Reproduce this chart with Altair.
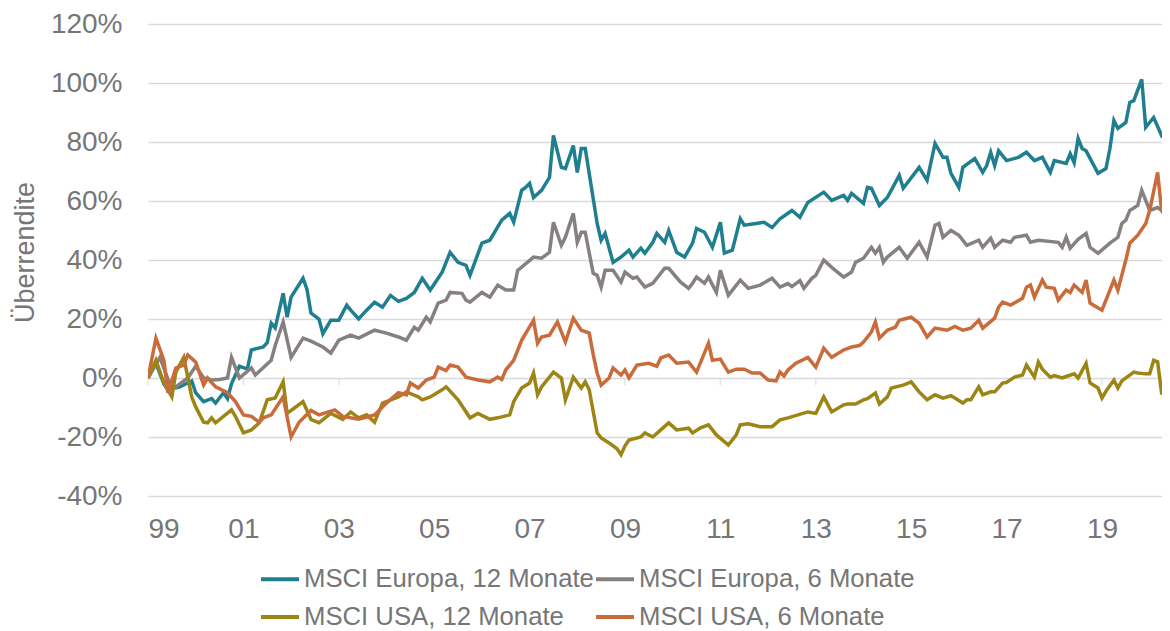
import altair as alt
import pandas as pd

# Series names (legend order) and colours
SERIES = ["MSCI Europa, 12 Monate", "MSCI USA, 12 Monate", "MSCI Europa, 6 Monate", "MSCI USA, 6 Monate"]
COLORS = ["#1f7f8f", "#9c8515", "#878080", "#c96b3b"]

# (months since Jan 1999, excess return in %)
EU12 = [(0,0),(2,5),(4,-2),(5,-4),(8,-3),(11,-1),(12,-5),(14,-8),(16,-7),(17,-8.5),(19,-5),(20,-7),(21,-2),(23,4),(25,3),(26,9.5),(29,10.5),(30,12),(31,18.6),(32,17),(34,28.7),(35,20.6),(36,27.4),(39,33.8),(40,30),(41,22),(43,20),(44,15),(46,19.6),(48,19.6),(50,24.7),(51,23),(53,20),(55,23),(57,25.7),(59,24),(61,28),(63,26),(65,27),(67,29),(69,33.8),(71,29.8),(74,35.9),(76,42.6),(78,39.2),(80,38.2),(81,34.8),(84,45.7),(86,46.7),(89,53.5),(91,55.8),(92,52.8),(94,63.6),(95,64.6),(96,66),(97,61.2),(99,63.6),(101,68),(102,82.2),(104,71.4),(105,71),(107,78.8),(108,69.7),(109,77.8),(110,77.8),(113,52.4),(114,46.7),(115,49),(117,39.2),(119,41),(121,43.3),(122,41),(124,44),(125,42.3),(127,46),(128,49),(130,46),(131,50),(133,42.6),(135,41),(137,45.7),(138,50.7),(140,49.4),(142,44.3),(144,52.8),(145,42.3),(147,43.3),(149,54),(150,51.8),(153,52.4),(155,52.8),(157,51),(159,54),(162,56.8),(164,54.5),(166,59.5),(170,63),(172,60.2),(175,61.9),(176,60.2),(177,62.6),(180,59.2),(181,64.6),(182,64.3),(184,58.5),(186,61.2),(189,68.7),(190,64.3),(194,71.4),(196,67),(198,79.5),(200,74.8),(201,74.8),(202,69.4),(204,64.6),(205,71.4),(208,74.4),(210,69.7),(211,72),(212,76.5),(213,72),(214,77),(216,73.7),(219,74.8),(221,76.5),(223,73.7),(225,74.8),(227,69.7),(228,73.7),(231,72.7),(232,76),(233,73),(234,81.2),(235,77.8),(236,77),(239,69.4),(241,71),(242,77.8),(243,87.3),(244,84.6),(246,86.6),(247,93.4),(248,94),(250,101.2),(251,85),(253,88.3),(255,82.2),(257,84.6)]

EU6 = [(0,0),(3,7),(6,-4),(8,-2),(10,0),(12,4),(14,0),(16,-0.7),(18,-0.5),(20,0),(21,7),(23,0),(26,3.4),(27,1),(31,6),(32,11),(34,19),(36,7),(39,13.5),(41,12.5),(44,10.5),(46,8.4),(48,12.8),(51,14.5),(53,13.5),(57,16.2),(60,15.2),(63,13.9),(65,12.8),(67,17.2),(68,16.2),(70,20.6),(71,19),(73,25.4),(75,26.4),(76,29),(79,28.7),(80,26.4),(81,25.7),(84,29),(86,27.4),(88,31.5),(90,29.8),(92,29.8),(93,36.5),(97,41),(99,40.6),(101,42.6),(102,52.8),(104,45),(105,47.7),(107,55.8),(108,46),(109,49.4),(110,49.4),(112,35.5),(113,34.8),(114,30.8),(115,36.5),(117,36.5),(119,32.5),(120,35.9),(122,33.8),(123,34.2),(125,30.8),(127,32.1),(130,37.2),(131,37.2),(134,32.5),(136,30.4),(137,32.1),(138,34.2),(140,32.1),(141,34.2),(143,29),(144,36.5),(146,28),(149,33.2),(151,30.4),(154,31.5),(157,33.8),(159,30.8),(161,32),(162,31),(164,33),(165,30.4),(167,33.8),(168,34.8),(170,40),(172,37.5),(175,34.2),(177,35.9),(178,39.2),(180,40.6),(182,44.3),(183,42.3),(184,44.3),(185,39.2),(186,41),(189,44.3),(191,40.6),(194,46),(196,41),(198,51.8),(199,52.4),(200,47.7),(202,50),(204,48.4),(206,45),(209,46.7),(210,44.3),(212,47.4),(213,44.3),(215,46.7),(217,46),(218,47.7),(221,48.4),(222,46),(224,46.7),(229,46),(230,44.3),(231,47.7),(232,44),(234,47),(236,49),(237,44.3),(239,42.3),(242,45.7),(244,47.7),(245,52.4),(246,53.5),(247,56.8),(249,58.5),(250,63.6),(252,56.8),(254,57.8),(255,56.8),(257,56.2)]

US12 = [(0,0),(2,6),(4,-1.7),(6,-6.4),(7,2),(9,7),(11,-6.4),(12,-9.8),(14,-15),(15,-15.2),(16,-13.5),(17,-15.2),(21,-10.8),(22,-13),(24,-18.6),(26,-17.6),(28,-15.2),(30,-7.4),(32,-6.8),(34,-1.3),(35,-12),(37,-10),(39,-8),(41,-14),(43,-15.2),(46,-12),(49,-14),(51,-11.5),(53,-13.5),(55,-12.5),(57,-15),(59,-8.5),(63,-6.4),(65,-4.7),(68,-6.4),(69,-7.4),(71,-6.4),(74,-4),(75,-3),(78,-7.4),(81,-13.5),(83,-12),(86,-14),(88,-13.5),(91,-12.5),(92,-8),(94,-3.4),(96,-1.7),(97,1.7),(98,-5.7),(99,-3),(102,2),(104,0),(105,-7.4),(107,0.3),(109,-3.4),(110,-1.3),(111,-4),(113,-18.6),(114,-20.3),(116,-22),(118,-24),(119,-26),(120,-23),(121,-21),(124,-20),(125,-18.6),(127,-20),(129,-17.6),(131,-15.2),(133,-17.6),(136,-17),(137,-18.6),(139,-16.9),(141,-15.9),(143,-19.3),(146,-22.7),(148,-19.3),(149,-15.9),(151,-15.5),(154,-16.5),(157,-16.5),(159,-14.2),(161,-13.5),(166,-11.5),(168,-12),(170,-6.4),(172,-11.5),(175,-9.1),(176,-8.8),(178,-8.8),(180,-7.4),(181,-7),(183,-5.1),(184,-8.8),(186,-6.4),(187,-3.4),(190,-2.4),(192,-1.3),(194,-4.7),(196,-7.4),(198,-5.7),(200,-6.8),(202,-6),(203,-6.8),(205,-8.5),(206,-7.4),(207,-7.4),(209,-3),(210,-5.7),(212,-4.7),(213,-4.7),(215,-1.7),(216,-1.5),(218,0.3),(220,1),(221,4.4),(223,0.3),(224,5.4),(225,3),(227,0.3),(228,0.8),(230,0),(231,0.5),(233,1.4),(234,0),(236,5),(237,-1.7),(239,-3.4),(240,-6.8),(241,-4.5),(243,-0.7),(244,-3.4),(245,-1),(248,2),(249,1.7),(251,1.4),(252,1.4),(253,6),(254,5.5),(255,-5.1),(256,-5.5),(257,-6.8)]

US6 = [(0,0),(2,13.5),(4,6),(5,-5),(7,3.4),(9,4.4),(10,7.8),(12,5.4),(14,-2.4),(15,0),(17,-3),(20,-5),(22,-8),(24,-12.5),(26,-13),(28,-15),(29,-13.5),(31,-12.5),(34,-6.4),(36,-20),(38,-15),(41,-11),(43,-12.5),(47,-10.8),(49,-13),(53,-14),(57,-12.5),(60,-8.5),(63,-5),(65,-5.7),(66,-1.7),(68,-3.4),(70,-0.7),(72,0.3),(73,3.7),(75,2.5),(76,4.4),(78,3.7),(80,0.3),(83,-0.7),(86,-1.3),(88,0.3),(89,-0.5),(90,2.7),(92,6),(94,12.8),(97,19.6),(98,11.8),(99,13.9),(101,14.5),(103,19),(105,12.2),(107,20.3),(109,16.2),(111,15.2),(112,8),(113,1.7),(114,-2.4),(116,0),(117,3.4),(119,1),(120,2.7),(121,0),(123,4.4),(126,5),(128,4),(129,6.8),(131,7.8),(133,5),(136,5.4),(138,2),(141,11.8),(142,6),(144,6.4),(146,2),(148,3),(150,3),(152,1.7),(154,1.7),(156,-0.7),(158,-1),(159,2),(160,0.7),(161,2.7),(163,5),(166,7),(168,3.7),(170,10.1),(172,7),(175,9.5),(177,10.5),(179,11),(180,12.2),(182,15.6),(183,19),(184,13.5),(186,16.2),(188,17.2),(189,19.6),(192,20.6),(194,18.6),(196,13.9),(198,16.9),(201,16.2),(203,17.5),(205,16.2),(207,16.9),(209,19.6),(210,16.9),(213,20.3),(214,24),(215,25.7),(217,24.7),(220,27),(221,30.8),(222,31.5),(223,27.4),(225,33.2),(226,30.8),(228,30.4),(229,26.4),(231,29.8),(232,29),(233,31.5),(235,29),(236,33.2),(237,25.4),(240,23),(243,33.2),(244,29.8),(246,40),(247,45.7),(249,48.4),(251,52.4),(252,56.8),(254,69.7),(255,56.8),(256,54.5),(257,55.5)]

Y_TICKS = [-40, -20, 0, 20, 40, 60, 80, 100, 120]
X_TICKS = [0, 24, 48, 72, 96, 120, 144, 168, 192, 216, 240]  # 99, 01, ..., 19

rows = []
# drawing order: Europa 12, Europa 6, USA 12, USA 6
for name, data in [(SERIES[0], EU12), (SERIES[2], EU6), (SERIES[1], US12), (SERIES[3], US6)]:
    for m, v in data:
        rows.append({"m": m, "v": v, "series": name})
df = pd.DataFrame(rows)

FONT = "Liberation Sans"
TXT = "#767676"

x_enc = alt.X(
    "m:Q",
    scale=alt.Scale(domain=[0, 255.1], nice=False, zero=False),
    axis=alt.Axis(
        values=X_TICKS, title=None, grid=False, ticks=False, domain=False,
        labelExpr="slice('0' + toString((1999 + round(datum.value / 12)) % 100), -2)",
        labelFontSize=28, labelColor=TXT, labelFont=FONT, labelPadding=19,
    ),
)
y_enc = alt.Y(
    "v:Q",
    scale=alt.Scale(domain=[-40, 120], nice=False, zero=False),
    axis=alt.Axis(
        values=Y_TICKS, title="Überrendite", grid=True, ticks=False, domain=False,
        labelExpr="datum.value + '%'",
        labelFontSize=28, labelColor=TXT, labelFont=FONT, labelPadding=26,
        titleFontSize=27, titleColor=TXT, titleFont=FONT, titleFontWeight="normal",
        titlePadding=11, titleY=228, gridColor="#d9d9d9", gridWidth=1.5,
    ),
)

lines = alt.Chart(df).mark_line(strokeWidth=3.5, clip=True).encode(
    x=x_enc,
    y=y_enc,
    color=alt.Color(
        "series:N",
        scale=alt.Scale(domain=SERIES, range=COLORS),
        legend=alt.Legend(
            title=None, orient="none", legendX=111, legendY=534, columns=2,
            symbolType="stroke", symbolStrokeWidth=4, symbolSize=1444,
            labelFontSize=25.7, labelColor=TXT, labelFont=FONT, labelLimit=0,
            columnPadding=-7, rowPadding=4, labelOffset=3,
        ),
    ),
)

ticks = alt.Chart(pd.DataFrame({"m": X_TICKS})).mark_tick(
    orient="vertical", size=7, thickness=1.5, color="#d9d9d9", yOffset=3.5
).encode(x=alt.X("m:Q"), y=alt.datum(0))

chart = alt.layer(ticks, lines).properties(
    width=1014, height=472,
    autosize=alt.AutoSizeParams(type="none"),
    padding={"left": 140, "top": 16, "right": 0, "bottom": 135},
).configure_view(stroke=None)

chart.save("out.html", embed_options={"renderer": "svg", "actions": False})
